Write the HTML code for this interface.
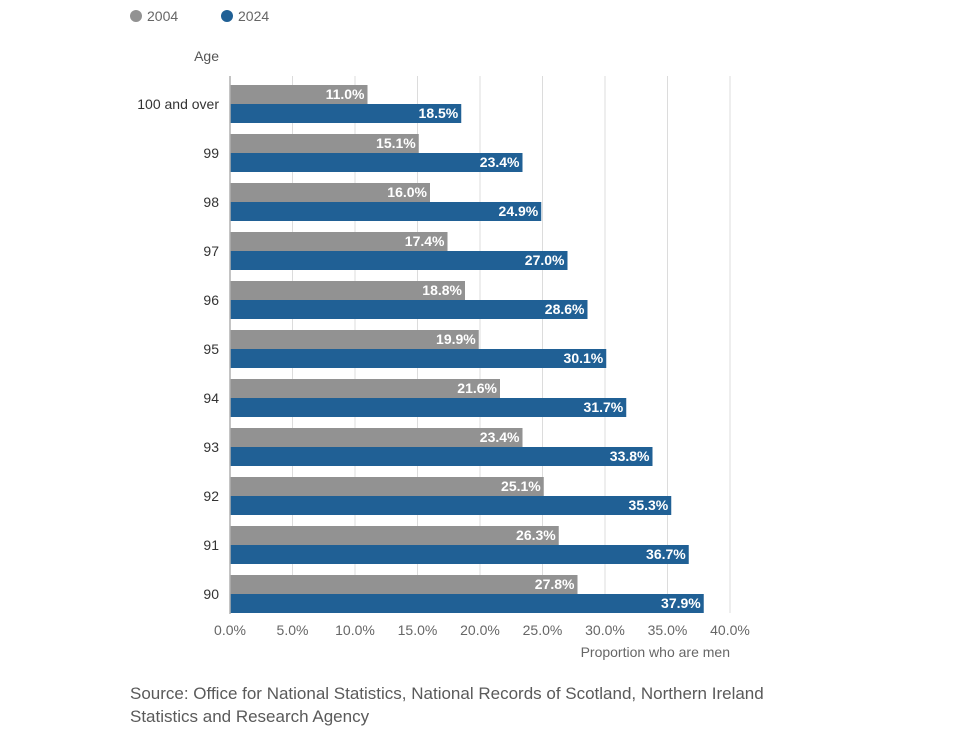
<!DOCTYPE html>
<html><head><meta charset="utf-8"><style>
body{margin:0;background:#fff;width:960px;height:745px;overflow:hidden;font-family:"Liberation Sans",sans-serif;}
svg text{font-family:"Liberation Sans",sans-serif;}
.src{position:absolute;left:130px;top:682px;font-size:17px;line-height:23px;color:#5a5a5a;}
</style></head><body>
<svg id="chart" width="960" height="745" style="position:absolute;left:0;top:0">
<g id="legend">
<circle cx="136" cy="16" r="6" fill="#929292"/>
<text x="147" y="21" font-size="14" fill="#666">2004</text>
<circle cx="227" cy="16" r="6" fill="#206095"/>
<text x="238" y="21" font-size="14" fill="#666">2024</text>
</g>
<text x="219" y="61" text-anchor="end" font-size="14" fill="#555">Age</text>
<g id="grid"></g><g id="bars"></g><g id="ticks"></g>
<text x="730" y="657" text-anchor="end" font-size="14" fill="#666">Proportion who are men</text>
</svg>
<div class="src">Source: Office for National Statistics, National Records of Scotland, Northern Ireland<br>Statistics and Research Agency</div>
<script>
const categories=["100 and over","99","98","97","96","95","94","93","92","91","90"];
const values2004=[11.0,15.1,16.0,17.4,18.8,19.9,21.6,23.4,25.1,26.3,27.8];
const values2024=[18.5,23.4,24.9,27.0,28.6,30.1,31.7,33.8,35.3,36.7,37.9];
const tickValues=[0,5,10,15,20,25,30,35,40];
const NS="http://www.w3.org/2000/svg";
const x=v=>230+v*12.5;
const rowY=i=>85+i*49;
function mk(tag,attrs,parent,txt){const e=document.createElementNS(NS,tag);for(const k in attrs)e.setAttribute(k,attrs[k]);if(txt!==undefined)e.textContent=txt;parent.appendChild(e);return e;}
const grid=document.getElementById('grid'),bars=document.getElementById('bars'),ticks=document.getElementById('ticks'),svg=document.getElementById('chart');
tickValues.forEach(t=>{
 if(t>0){const l=mk('line',{x1:x(t),x2:x(t),y1:76,y2:613,stroke:'#dcdcdc','stroke-width':1},grid);
 
 }
 const tx=mk('text',{x:x(t),y:635,'text-anchor':'middle','font-size':14,fill:'#666'},ticks,t.toFixed(1)+'%');
 
 
});
categories.forEach((c,i)=>{
 const y=rowY(i);
 const b1=mk('rect',{x:230,y:y,width:x(values2004[i])-230,height:19,fill:'#929292'},bars);
 
 
 const b2=mk('rect',{x:230,y:y+19,width:x(values2024[i])-230,height:19,fill:'#206095'},bars);
 
 
 const l1=mk('text',{x:x(values2004[i])-3,y:y+14,'text-anchor':'end','font-size':14,'font-weight':'bold',fill:'#fff'},bars,values2004[i].toFixed(1)+'%');
 
 
 const l2=mk('text',{x:x(values2024[i])-3,y:y+33,'text-anchor':'end','font-size':14,'font-weight':'bold',fill:'#fff'},bars,values2024[i].toFixed(1)+'%');
 
 
 const cl=mk('text',{x:219,y:y+24,'text-anchor':'end','font-size':14,fill:'#333'},ticks,c);
 
 
});
const ax=mk('line',{x1:230,x2:230,y1:76,y2:614,stroke:'#b0b0b0','stroke-width':1.5},svg);


</script>
</body></html>
